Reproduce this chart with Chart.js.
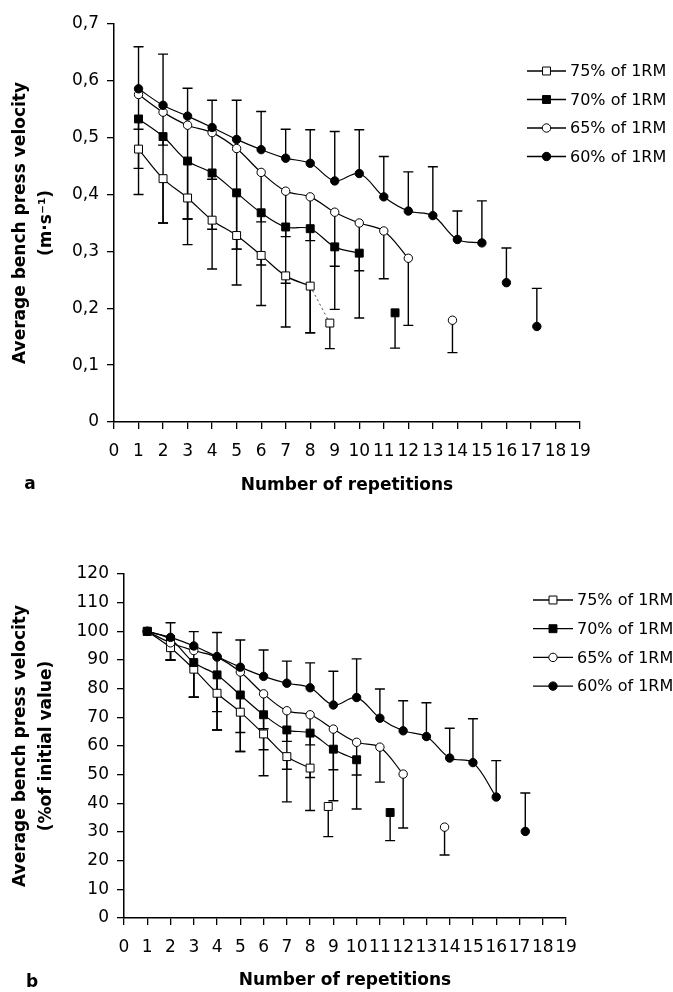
<!DOCTYPE html>
<html>
<head>
<meta charset="utf-8">
<script src="https://cdn.jsdelivr.net/npm/chart.js@4.4.1/dist/chart.umd.min.js"></script>
<style>
  html, body { margin: 0; padding: 0; background: #fff; }
  canvas { display: block; }
</style>
</head>
<body>
<canvas id="chartA" width="673" height="500"></canvas>
<canvas id="chartB" width="673" height="492"></canvas>
<script>
// legend labels, top to bottom
const seriesLabels = ['75% of 1RM', '70% of 1RM', '65% of 1RM', '60% of 1RM'];
const xTicks = [0, 19];

// panel a: velocity (m/s). *_bar = end of the error bar (60% up, others down)
const a75x = [1, 2, 3, 4, 5, 6, 7, 8, 8.8];
const a75y = [0.480, 0.428, 0.394, 0.355, 0.328, 0.293, 0.257, 0.239, 0.174];
const a75bar = [0.400, 0.350, 0.312, 0.269, 0.241, 0.205, 0.167, 0.157, 0.129];

const a70x = [1, 2, 3, 4, 5, 6, 7, 8, 9, 10, 11.46];
const a70y = [0.533, 0.502, 0.459, 0.438, 0.403, 0.368, 0.343, 0.340, 0.308, 0.297, 0.192];
const a70bar = [0.446, 0.350, 0.357, 0.339, 0.304, 0.276, 0.244, 0.157, 0.198, 0.183, 0.130];

const a65x = [1, 2, 3, 4, 5, 6, 7, 8, 9, 10, 11, 12, 13.8];
const a65y = [0.576, 0.545, 0.522, 0.509, 0.481, 0.439, 0.406, 0.396, 0.369, 0.350, 0.336, 0.288, 0.179];
const a65bar = [0.515, 0.487, 0.357, 0.427, 0.304, 0.352, 0.326, 0.319, 0.274, 0.266, 0.252, 0.170, 0.122];

const a60x = [1, 2, 3, 4, 5, 6, 7, 8, 9, 10, 11, 12, 13, 14, 15, 16, 17.24];
const a60y = [0.586, 0.557, 0.538, 0.518, 0.497, 0.479, 0.464, 0.455, 0.424, 0.437, 0.396, 0.371, 0.363, 0.321, 0.315, 0.245, 0.168];
const a60bar = [0.660, 0.647, 0.587, 0.566, 0.566, 0.546, 0.515, 0.514, 0.511, 0.514, 0.467, 0.440, 0.449, 0.371, 0.389, 0.306, 0.235];

// panel b: % of initial value
const b75x = [1, 2, 3, 4, 5, 6, 7, 8, 8.78];
const b75y = [100, 94.3, 86.8, 78.4, 71.8, 64.2, 56.3, 52.3, 38.9];
const b75bar = [null, 90.0, 77.0, 65.6, 58.1, 49.6, 40.5, 37.5, 28.4];

const b70x = [1, 2, 3, 4, 5, 6, 7, 8, 9, 10, 11.44];
const b70y = [100, 97.2, 89.1, 84.8, 77.8, 70.9, 65.6, 64.5, 58.9, 55.2, 36.8];
const b70bar = [null, 90.0, 77.0, 65.6, 58.1, 58.7, 51.9, 49.0, 40.9, 38.0, 27.0];

const b65x = [1, 2, 3, 4, 5, 6, 7, 8, 9, 10, 11, 12, 13.78];
const b65y = [100, 96.0, 93.3, 91.0, 85.8, 78.2, 72.3, 70.9, 65.9, 61.3, 59.6, 50.2, 31.7];
const b65bar = [null, 90.0, 77.0, 72.0, 64.7, 66.0, 61.6, 60.4, 51.7, 49.9, 47.4, 31.4, 22.0];

const b60x = [1, 2, 3, 4, 5, 6, 7, 8, 9, 10, 11, 12, 13, 14, 15, 16, 17.25];
const b60y = [100, 97.9, 94.9, 91.2, 87.5, 84.3, 81.9, 80.3, 74.3, 76.9, 69.7, 65.3, 63.3, 55.8, 54.2, 42.2, 30.2];
const b60bar = [null, 103.0, 99.9, 99.6, 97.0, 93.5, 89.6, 89.0, 86.1, 90.4, 79.9, 75.8, 75.1, 66.2, 69.5, 54.9, 43.6];

Chart.defaults.font.family = '"DejaVu Sans", sans-serif';
Chart.defaults.color = '#000';

const markers = [
  { shape: 'rect', fill: '#fff', r: 5.6 },
  { shape: 'rect', fill: '#000', r: 5.6 },
  { shape: 'circle', fill: '#fff', r: 4.2 },
  { shape: 'circle', fill: '#000', r: 4.2 }
];

// one connected part and one set of loose points for a series
function series(idx, xs, ys, bars, linked) {
  const m = markers[idx];
  const pts = xs.map((x, i) => ({ x: x, y: ys[i] }));
  const common = {
    borderColor: '#000',
    backgroundColor: m.fill,
    pointBackgroundColor: m.fill,
    pointBorderColor: '#000',
    pointBorderWidth: 1,
    pointStyle: m.shape,
    pointRadius: m.r,
    pointHoverRadius: m.r
  };
  return [
    Object.assign({}, common, {
      legendLabel: seriesLabels[idx],
      marker: m,
      data: pts.slice(0, linked),
      errEnd: bars.slice(0, linked),
      borderWidth: 1.2,
      tension: 0.35,
      order: 4 - idx
    }),
    Object.assign({}, common, {
      data: pts.slice(linked),
      errEnd: bars.slice(linked),
      showLine: false,
      order: 4 - idx
    })
  ];
}

const errorBars = {
  id: 'errorBars',
  beforeDatasetsDraw(chart) {
    const { ctx, scales: { x, y } } = chart;
    ctx.save();
    ctx.strokeStyle = '#000';
    ctx.lineWidth = 1.4;
    chart.data.datasets.forEach(ds => {
      if (!ds.errEnd) return;
      ds.data.forEach((p, i) => {
        const end = ds.errEnd[i];
        if (end == null) return;
        const px = x.getPixelForValue(p.x);
        const py = y.getPixelForValue(p.y);
        const pe = y.getPixelForValue(end);
        ctx.beginPath();
        ctx.moveTo(px, py);
        ctx.lineTo(px, pe);
        ctx.moveTo(px - 5, pe);
        ctx.lineTo(px + 5, pe);
        ctx.stroke();
      });
    });
    ctx.restore();
  }
};

const sideLegend = {
  id: 'sideLegend',
  afterDraw(chart, args, opts) {
    const ctx = chart.ctx;
    ctx.save();
    const items = chart.data.datasets.filter(ds => ds.legendLabel);
    items.sort((a, b) => seriesLabels.indexOf(a.legendLabel) - seriesLabels.indexOf(b.legendLabel));
    items.forEach((ds, i) => {
      const y = opts.y + i * opts.gap;
      const x0 = opts.x, x1 = opts.x + opts.len, cx = (x0 + x1) / 2;
      ctx.strokeStyle = '#000';
      ctx.lineWidth = 1.3;
      ctx.beginPath();
      ctx.moveTo(x0, y);
      ctx.lineTo(x1, y);
      ctx.stroke();
      const m = ds.marker;
      ctx.fillStyle = m.fill;
      ctx.lineWidth = 1;
      ctx.beginPath();
      if (m.shape === 'rect') {
        const s = m.r * Math.SQRT1_2;
        ctx.rect(cx - s, y - s, 2 * s, 2 * s);
      } else {
        ctx.arc(cx, y, m.r, 0, Math.PI * 2);
      }
      ctx.fill();
      ctx.stroke();
      ctx.fillStyle = '#000';
      ctx.font = '16px "DejaVu Sans", sans-serif';
      ctx.textAlign = 'left';
      ctx.textBaseline = 'middle';
      ctx.fillText(ds.legendLabel, x1 + 4, y + 1);
    });
    if (opts.letter) {
      ctx.font = 'bold 17px "DejaVu Sans", sans-serif';
      ctx.textAlign = 'center';
      ctx.textBaseline = 'middle';
      ctx.fillText(opts.letter.text, opts.letter.x, opts.letter.y);
    }
    ctx.restore();
  }
};

function makeChart(id, cfg) {
  return new Chart(document.getElementById(id).getContext('2d'), {
    type: 'line',
    data: { datasets: cfg.datasets },
    options: {
      responsive: false,
      animation: false,
      layout: { padding: cfg.padding },
      plugins: {
        legend: { display: false },
        tooltip: { enabled: false },
        sideLegend: cfg.legend
      },
      scales: {
        x: {
          type: 'linear',
          min: xTicks[0],
          max: xTicks[1],
          ticks: { stepSize: 1, autoSkip: false, maxRotation: 0, font: { size: 17 }, padding: 12 },
          grid: { drawOnChartArea: false, drawTicks: true, tickLength: 7, color: '#000', lineWidth: 1.3 },
          border: { display: true, color: '#000', width: 1.5 },
          title: {
            display: true,
            text: 'Number of repetitions',
            font: { size: 17, weight: 'bold' },
            padding: { top: 0, bottom: cfg.xTitlePad }
          },
          afterFit(s) { s.height = cfg.xHeight; }
        },
        y: {
          type: 'linear',
          min: cfg.yMin,
          max: cfg.yMax,
          ticks: { stepSize: cfg.yStep, font: { size: 17 }, padding: 8, callback: cfg.yFormat },
          grid: { drawOnChartArea: false, drawTicks: true, tickLength: 7, color: '#000', lineWidth: 1.3 },
          border: { display: true, color: '#000', width: 1.5 },
          title: {
            display: true,
            text: cfg.yTitle,
            font: { size: 17, weight: 'bold', lineHeight: 1.55 },
            padding: { top: 7, bottom: 0 }
          },
          afterFit(s) { s.width = cfg.yWidth; }
        }
      }
    },
    plugins: [errorBars, sideLegend]
  });
}

const dashA = {
  data: [{ x: a75x[7], y: a75y[7] }, { x: a75x[8], y: a75y[8] }],
  borderColor: '#333',
  borderWidth: 0.9,
  borderDash: [2, 3],
  pointRadius: 0,
  showLine: true,
  order: 9
};

makeChart('chartA', {
  datasets: [
    ...series(0, a75x, a75y, a75bar, 8),
    ...series(1, a70x, a70y, a70bar, 10),
    ...series(2, a65x, a65y, a65bar, 12),
    ...series(3, a60x, a60y, a60bar, 15),
    dashA
  ],
  padding: { left: 0, right: 93, top: 24, bottom: 0 },
  xHeight: 78,
  xTitlePad: 4,
  yWidth: 114,
  yMin: 0, yMax: 0.7, yStep: 0.1,
  yFormat: v => (v === 0 ? '0' : v.toFixed(1).replace('.', ',')),
  yTitle: ['Average bench press velocity', '(m\u00b7s\u207b\u00b9)'],
  legend: { x: 527, y: 71, gap: 28.5, len: 39, letter: { text: 'a', x: 30, y: 485 } }
});

makeChart('chartB', {
  datasets: [
    ...series(0, b75x, b75y, b75bar, 8),
    ...series(1, b70x, b70y, b70bar, 10),
    ...series(2, b65x, b65y, b65bar, 12),
    ...series(3, b60x, b60y, b60bar, 16)
  ],
  padding: { left: 0, right: 107, top: 74, bottom: 0 },
  xHeight: 74,
  xTitlePad: 1,
  yWidth: 124,
  yMin: 0, yMax: 120, yStep: 10,
  yFormat: v => String(v),
  yTitle: ['Average bench press velocity', '(%of initial value)'],
  legend: { x: 533, y: 100, gap: 28.7, len: 40, letter: { text: 'b', x: 32, y: 483 } }
});
</script>
</body>
</html>
